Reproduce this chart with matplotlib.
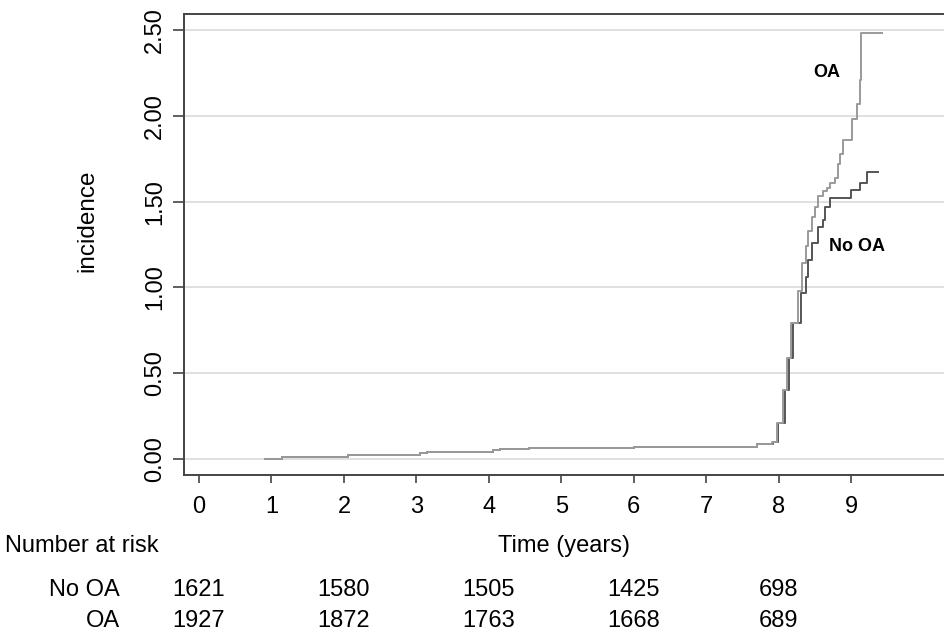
import matplotlib
matplotlib.use("Agg")
import matplotlib.pyplot as plt
import matplotlib.transforms as mtransforms

plt.rcParams['font.family'] = ['Liberation Sans', 'DejaVu Sans']

# curva OA (años, incidencia)
oa_t = [0.91, 1.15, 2.05, 3.05, 3.15, 4.05, 4.15, 4.55, 6.0, 7.70, 7.91,
        7.97, 8.06, 8.12, 8.17, 8.26, 8.32, 8.37, 8.41, 8.46, 8.50, 8.54,
        8.61, 8.67, 8.71, 8.77, 8.82, 8.85, 8.89, 9.01, 9.08, 9.12, 9.13, 9.43]
oa_y = [0.0, 0.012, 0.022, 0.035, 0.04, 0.052, 0.058, 0.064, 0.07, 0.09, 0.10,
        0.21, 0.40, 0.59, 0.79, 0.98, 1.14, 1.24, 1.33, 1.41, 1.47, 1.53,
        1.56, 1.58, 1.61, 1.64, 1.72, 1.78, 1.86, 1.98, 2.07, 2.21, 2.48, 2.48]

# curva No OA
nooa_t = [0.91, 1.15, 2.05, 3.05, 3.15, 4.05, 4.15, 4.55, 6.0, 7.70, 7.92,
          7.99, 8.09, 8.14, 8.20, 8.30, 8.37, 8.41, 8.46, 8.54, 8.61, 8.64,
          8.71, 8.99, 9.12, 9.22, 9.37]
nooa_y = [0.0, 0.012, 0.022, 0.035, 0.04, 0.052, 0.058, 0.064, 0.07, 0.09, 0.10,
          0.21, 0.40, 0.59, 0.79, 0.97, 1.06, 1.16, 1.26, 1.35, 1.39, 1.47,
          1.52, 1.57, 1.61, 1.67, 1.67]

# tabla de número en riesgo
riesgo_t = [0, 2, 4, 6, 8]
riesgo_nooa = [1621, 1580, 1505, 1425, 698]
riesgo_oa = [1927, 1872, 1763, 1668, 689]

y_ticks = [0.0, 0.5, 1.0, 1.5, 2.0, 2.5]
x_ticks = list(range(0, 10))

W, H = 944, 639
fig = plt.figure(figsize=(W / 100, H / 100), dpi=100)
ax = fig.add_axes([184 / W, 1 - 475 / H, 1 - 184 / W, (475 - 14) / H])

for y in y_ticks:
    ax.axhline(y, color='#dadada', lw=1.2, zorder=0)

ax.plot(nooa_t, nooa_y, drawstyle='steps-post', color='#555555', lw=1.4)
ax.plot(oa_t, oa_y, drawstyle='steps-post', color='#9a9a9a', lw=1.4)

ax.set_xlim(-0.207, 10.28)
ax.set_ylim(-0.093, 2.593)
ax.set_xticks(x_ticks)
ax.set_yticks(y_ticks)
ax.set_yticklabels([f"{v:.2f}" for v in y_ticks], rotation=90, va='center')
ax.tick_params(axis='both', labelsize=17, color='#444444', width=1.2)
ax.tick_params(axis='y', length=8, pad=5)
ax.tick_params(axis='x', length=6, pad=9)

for s in ['left', 'bottom', 'top']:
    ax.spines[s].set_color('#444444')
    ax.spines[s].set_linewidth(1.4)
ax.spines['right'].set_visible(False)

ax.text(8.66, 2.255, "OA", fontsize=13, fontweight='bold', ha='center', va='center')
ax.text(9.08, 1.24, "No OA", fontsize=13, fontweight='bold', ha='center', va='center')

fig.text(87 / W, 1 - 221 / H, "incidence", rotation=90, fontsize=17.5,
         ha='center', va='center')
fig.text(564 / W, 1 - 546 / H, "Time (years)", fontsize=17, ha='center', va='center')
fig.text(5 / W, 1 - 546 / H, "Number at risk", fontsize=17, ha='left', va='center')

trans = mtransforms.blended_transform_factory(ax.transData, fig.transFigure)
fig.text(120 / W, 1 - 590 / H, "No OA", fontsize=17, ha='right', va='center')
fig.text(120 / W, 1 - 621 / H, "OA", fontsize=17, ha='right', va='center')
for t, a, b in zip(riesgo_t, riesgo_nooa, riesgo_oa):
    ax.text(t, 1 - 590 / H, str(a), transform=trans, fontsize=17, ha='center', va='center')
    ax.text(t, 1 - 621 / H, str(b), transform=trans, fontsize=17, ha='center', va='center')

fig.savefig("out.png", dpi=100)
